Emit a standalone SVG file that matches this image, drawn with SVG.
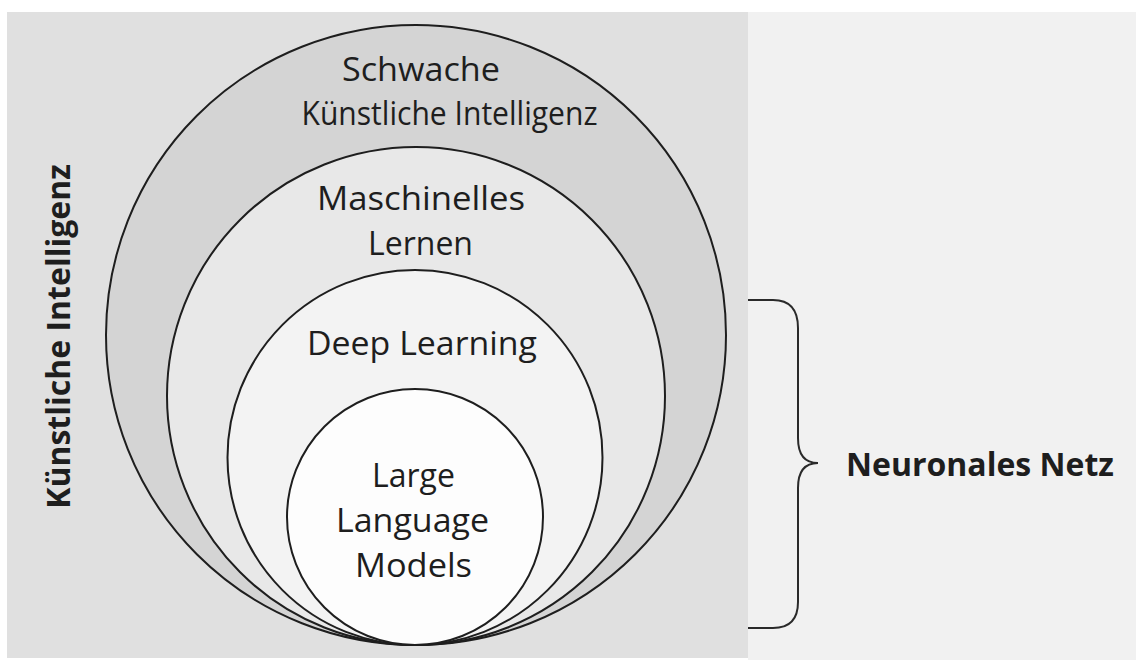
<svg xmlns="http://www.w3.org/2000/svg" width="1136" height="660" viewBox="0 0 1136 660">
  <style>
    .ring { stroke: #1e1e1e; stroke-width: 2; }
    .lbl { font-family: "Open Sans", "Liberation Sans", sans-serif; font-size: 33px; fill: #1e1e1e; text-anchor: middle; }
    .bold { font-family: "Open Sans", "Liberation Sans", sans-serif; font-size: 32px; font-weight: bold; fill: #1e1e1e; }
    .brace { fill: none; stroke: #2a2a2a; stroke-width: 2; }
  </style>
  <rect x="0" y="0" width="1136" height="660" fill="#ffffff"/>
  <rect x="7" y="12" width="741" height="646" fill="#e0e0e0"/>
  <rect x="748" y="12" width="388" height="648" fill="#f1f1f1"/>

  <g id="schwache-ki">
    <circle class="ring" cx="416" cy="335" r="310" fill="#d4d4d4"/>
    <text class="lbl" x="421" y="81" textLength="158" lengthAdjust="spacingAndGlyphs">Schwache</text>
    <text class="lbl" x="449.5" y="125" textLength="296" lengthAdjust="spacingAndGlyphs">Künstliche Intelligenz</text>
  </g>
  <g id="maschinelles-lernen">
    <circle class="ring" cx="416" cy="396" r="249" fill="#e8e8e8"/>
    <text class="lbl" x="421" y="210" textLength="208" lengthAdjust="spacingAndGlyphs">Maschinelles</text>
    <text class="lbl" x="420.5" y="255" textLength="105" lengthAdjust="spacingAndGlyphs">Lernen</text>
  </g>
  <g id="deep-learning">
    <circle class="ring" cx="415" cy="457.5" r="187.5" fill="#f3f3f3"/>
    <text class="lbl" x="422" y="355" textLength="230" lengthAdjust="spacingAndGlyphs">Deep Learning</text>
  </g>
  <g id="llm">
    <circle class="ring" cx="415" cy="517" r="128" fill="#fdfdfd"/>
    <text class="lbl" x="413.5" y="487" textLength="83" lengthAdjust="spacingAndGlyphs">Large</text>
    <text class="lbl" x="412.5" y="532" textLength="153" lengthAdjust="spacingAndGlyphs">Language</text>
    <text class="lbl" x="413.5" y="577" textLength="117" lengthAdjust="spacingAndGlyphs">Models</text>
  </g>

  <g id="kuenstliche-intelligenz">
    <text class="bold" text-anchor="middle" transform="translate(70,336.5) rotate(-90)">Künstliche Intelligenz</text>
  </g>

  <g id="connectors">
    <path class="brace" d="M748,300 H773 Q798,300 798,328 V438 Q798,463 818,463 Q798,463 798,488 V602 Q798,628 773,628 H748"/>
  </g>

  <g id="neuronales-netz">
    <text class="bold" x="846" y="476">Neuronales Netz</text>
  </g>
</svg>
